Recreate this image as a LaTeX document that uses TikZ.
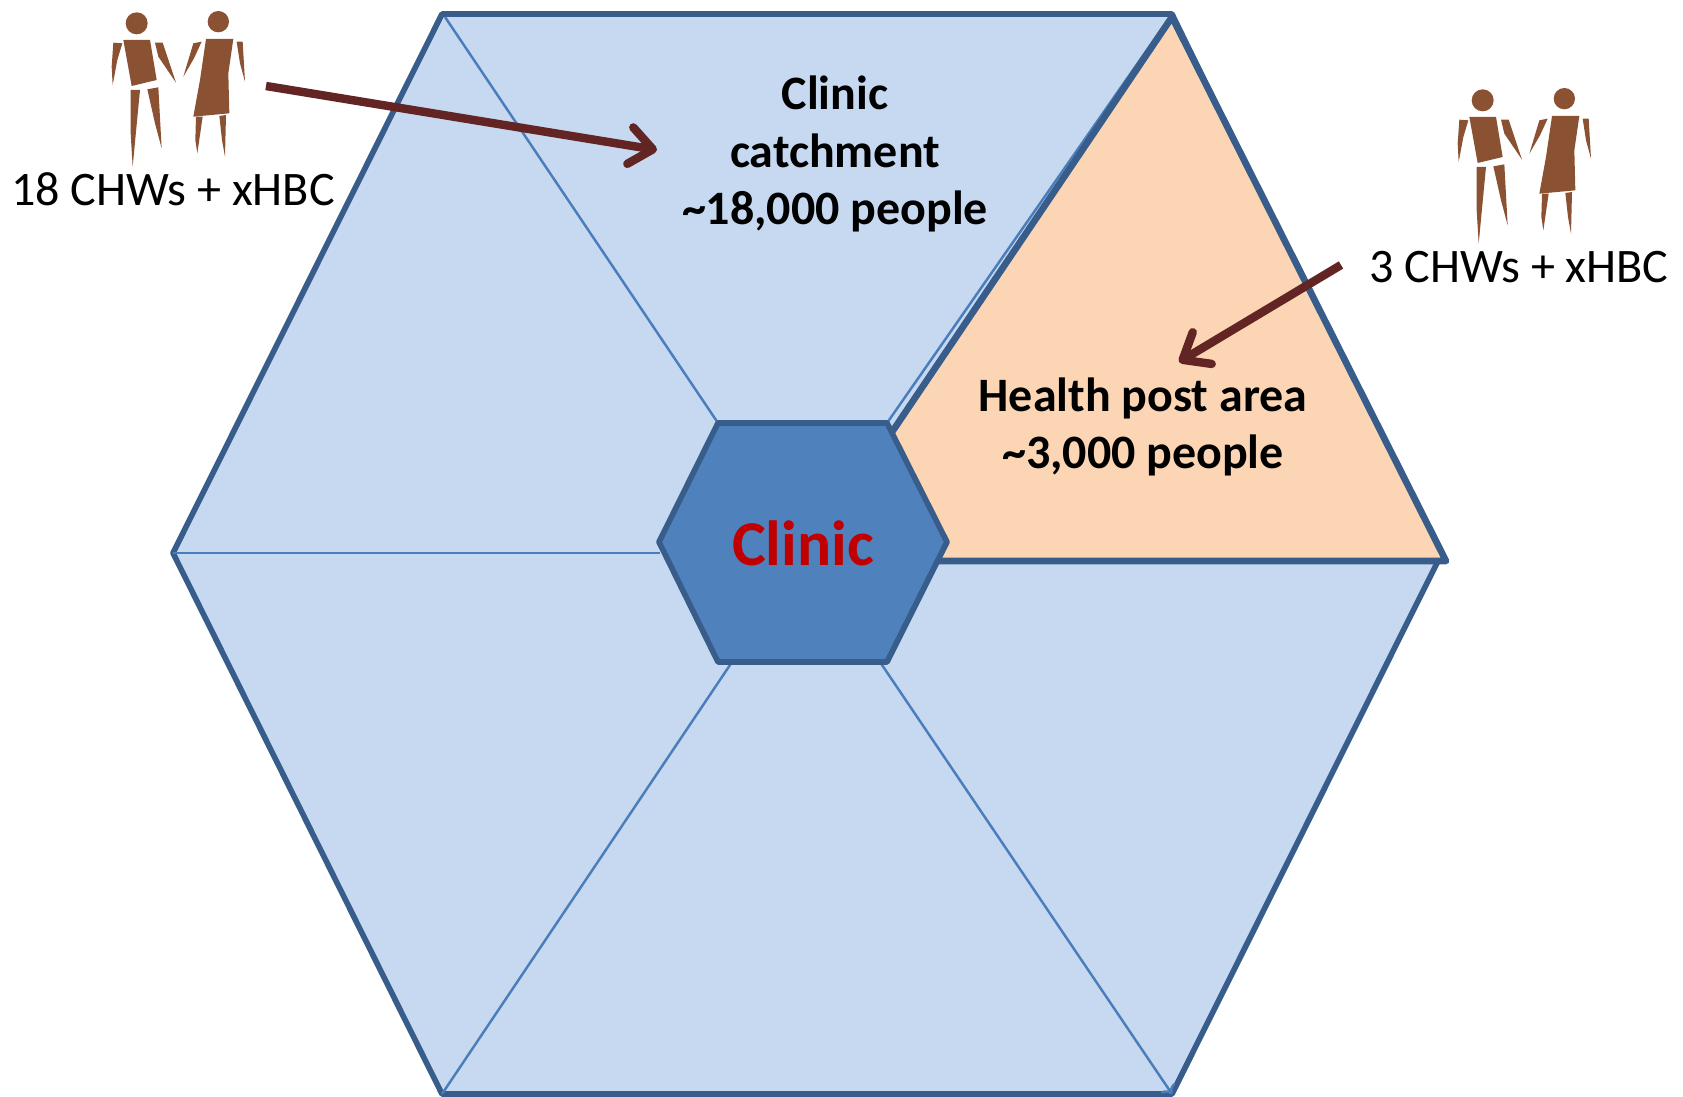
\documentclass[tikz,border=0pt]{standalone}
\usepackage{fontspec}
\setmainfont{Carlito}
\usetikzlibrary{positioning,arrows.meta}

\definecolor{catchfill}{HTML}{C6D9F1}
\definecolor{hexline}{HTML}{385D8A}
\definecolor{spokeline}{HTML}{4A7EBB}
\definecolor{clinicfill}{HTML}{4F81BD}
\definecolor{postfill}{HTML}{FCD5B5}
\definecolor{clinicred}{HTML}{C00000}
\definecolor{arrowred}{HTML}{632523}
\definecolor{skin}{HTML}{8A5232}

\tikzset{
  spoke/.style={draw=spokeline, line width=1.4pt},
  hexborder/.style={draw=hexline, line width=3.2pt, line join=round},
  pointer/.style={draw=arrowred, line width=4.8pt,
    -{Straight Barb[length=13pt,width=21pt,round]}},
  biglabel/.style={font=\bfseries\fontsize{27.3}{32.7}\selectfont, align=center},
  smalllabel/.style={font=\fontsize{27.4}{33}\selectfont},
  couple/.pic={
    \begin{scope}[scale=1/3]
      \fill[skin] (140,70) circle[radius=33];
      \fill[skin] (100,120) -- (180,120) -- (200,240) -- (125,258) -- cycle;
      \fill[skin] (70,128) -- (97,130) -- (82,180) -- (68,255) -- (65,200) -- cycle;
      \fill[skin] (195,128) -- (218,128) -- (258,248) -- (205,170) -- cycle;
      \fill[skin] (122,270) -- (150,270) -- (128,500) -- (122,400) -- cycle;
      \fill[skin] (172,268) -- (205,262) -- (215,445) -- (195,370) -- cycle;
      \fill[skin] (385,65) circle[radius=32];
      \fill[skin] (348,117) -- (430,117) -- (415,220) -- (418,340) -- (310,350) -- (330,240) -- cycle;
      \fill[skin] (335,125) -- (310,130) -- (280,230) -- (312,175) -- cycle;
      \fill[skin] (440,125) -- (458,125) -- (465,245) -- (450,190) -- cycle;
      \fill[skin] (318,350) -- (338,350) -- (322,460) -- (316,420) -- cycle;
      \fill[skin] (388,348) -- (408,345) -- (405,470) -- (396,420) -- cycle;
    \end{scope}
  }
}

\begin{document}
\begin{tikzpicture}[x=0.02cm,y=-0.02cm]
    \useasboundingbox (0,0) rectangle (1683,1097);

    \coordinate (OuterNW) at (442,14);
    \coordinate (OuterNE) at (1172,14);
    \coordinate (OuterE) at (1438,561);
    \coordinate (OuterSE) at (1172,1094);
    \coordinate (OuterSW) at (442,1094);
    \coordinate (OuterW) at (173,553);
    \coordinate (PostApex) at (1172,17);
    \coordinate (PostEast) at (1446,561);
    \coordinate (PostWest) at (805,561);
    \coordinate (ClinicW) at (659,542);
    \coordinate (ClinicNW) at (718,423);
    \coordinate (ClinicNE) at (887,423);
    \coordinate (ClinicE) at (947,542);
    \coordinate (ClinicSE) at (887,662);
    \coordinate (ClinicSW) at (718,662);

    \fill[catchfill] (OuterNW) -- (OuterNE) -- (OuterE) -- (OuterSE) -- (OuterSW) -- (OuterW) -- cycle;

    \draw[hexborder] (OuterNW) -- (OuterNE) -- (OuterE) -- (OuterSE) -- (OuterSW) -- (OuterW) -- cycle;

    \draw[spoke] (445,17) -- (ClinicNW);
    \draw[spoke] (OuterW) -- (660,553);
    \draw[spoke] (732,662) -- (OuterSW);
    \draw[spoke, ->] (880,662) -- (OuterSE);
    \draw[spoke] (ClinicNE) -- (OuterNE);

    \draw[hexborder, line width=3.8pt, fill=postfill] (PostApex) -- (PostEast) -- (PostWest) -- cycle;
    \draw[hexborder, fill=clinicfill] (ClinicW) -- (ClinicNW) -- (ClinicNE) -- (ClinicE) -- (ClinicSE) -- (ClinicSW) -- cycle;

    \node[font=\bfseries\fontsize{36.3}{40}\selectfont, text=clinicred] (ClinicText) at (803,543) {Clinic};
    \node[biglabel] (CatchText) at (835,154) {Clinic\\catchment\\\char`\~18,000 people};
    \node[biglabel] (PostText) at (1143,427) {Health post area\\\char`\~3,000 people};

    \node[smalllabel] (LeftText) at (173,189) {18 CHWs + xHBC};
    \node[smalllabel] (RightText) at (1519,267) {3 CHWs + xHBC};

    \pic (LeftPeople) at (90,0) {couple};
    \pic (RightPeople) at (1436,77) {couple};

    \coordinate (LeftTail) at (266,86);
    \coordinate (LeftTip) at (657,150);
    \coordinate (RightTail) at (1341,265);
    \coordinate (RightTip) at (1179,362);
    \draw[pointer] (LeftTail) -- (LeftTip);
    \draw[pointer] (RightTail) -- (RightTip);
\end{tikzpicture}
\end{document}
